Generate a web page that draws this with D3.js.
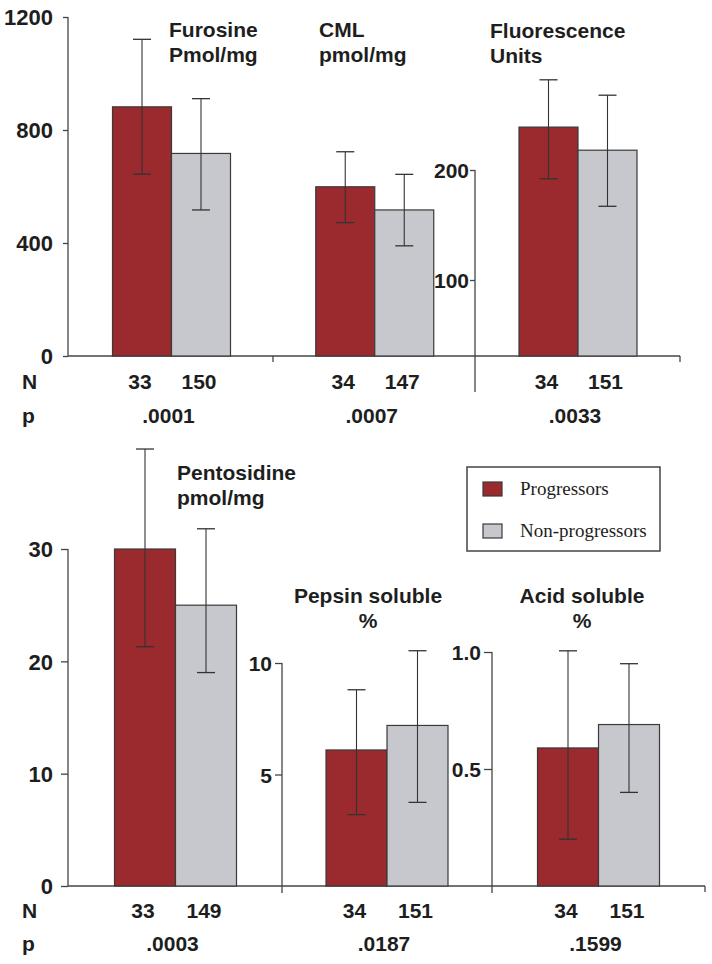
<!DOCTYPE html>
<html><head><meta charset="utf-8">
<script src="https://cdn.jsdelivr.net/npm/d3@7"></script>
<style>
body{margin:0;background:#fff}
text{font-family:"Liberation Sans",Arial,sans-serif;font-weight:bold;fill:#1e1e1e}
</style>
</head><body><svg id="c" width="712" height="964"></svg>
<script>
// ---------- DATA ----------
const series = ["Progressors", "Non-progressors"];
const topPanels = ["Furosine", "CML", "Fluorescence"];
const bottomPanels = ["Pentosidine", "Pepsin soluble", "Acid soluble"];
const titleLine1 = ["Furosine", "CML", "Fluorescence", "Pentosidine", "Pepsin soluble", "Acid soluble"];
const titleLine2 = ["Pmol/mg", "pmol/mg", "Units", "pmol/mg", "%", "%"];
const progMean = [882, 599, 239, 30, 6.1, 0.59];
const progLow  = [644, 472, 192, 21.3, 3.2, 0.20];
const progHigh = [1121, 723, 282, 38.9, 8.8, 1.005];
const nonMean  = [717, 517, 218, 25, 7.2, 0.69];
const nonLow   = [517, 390, 167, 19.0, 3.75, 0.40];
const nonHigh  = [911, 643, 268, 31.8, 10.55, 0.95];
const nProg = [33, 34, 34, 33, 34, 34];
const nNon  = [150, 147, 151, 149, 151, 151];
const pValues = [".0001", ".0007", ".0033", ".0003", ".0187", ".1599"];
const domainFurosine = [0, 1200];
const domainFluor = [0, 200];
const domainPent = [0, 30];
const domainPepsin = [0, 10];
const domainAcid = [0, 1];
const ticksFurosine = [0, 400, 800, 1200];
const ticksFluor = [100, 200];
const ticksPent = [0, 10, 20, 30];
const ticksPepsin = [5, 10];
const ticksAcid = [0.5, 1.0];

// ---------- LAYOUT ----------
const svg = d3.select("#c");
const RED = "#9b2a2e", GRAY = "#c6c8ce", STROKE = "#3a3a3a", AX = "#444";
const rows = [
  {panels: topPanels, base: 356, centers: [171.5, 578], half: 59, nY: 389, pY: 423, idx0: 0},
  {panels: bottomPanels, base: 886, centers: [175.5, 598.5], half: 61, nY: 918, pY: 951, idx0: 3}
];
const titlePos = [
  {x: 169, y: 37, anchor: "start"}, {x: 319, y: 37, anchor: "start"}, {x: 490, y: 38, anchor: "start"},
  {x: 177, y: 480, anchor: "start"}, {x: 368, y: 603, anchor: "middle"}, {x: 582, y: 603, anchor: "middle"}
];
const yFur = d3.scaleLinear().domain(domainFurosine).range([356, 17]);
const yFlu = d3.scaleLinear().domain(domainFluor).range([390, 170]);
const yPen = d3.scaleLinear().domain(domainPent).range([886, 549]);
const yPep = d3.scaleLinear().domain(domainPepsin).range([886, 663]);
const yAci = d3.scaleLinear().domain(domainAcid).range([886, 652]);
const yScales = [yFur, yFur, yFlu, yPen, yPep, yAci];

function drawAxis(x, scale, ticks, fmt, top, bottom, tickSize, pad, fs) {
  const g = svg.append("g").attr("transform", `translate(${x},0)`);
  g.call(d3.axisLeft(scale).tickValues(ticks).tickFormat(fmt).tickSize(tickSize).tickPadding(pad));
  g.select(".domain").remove();
  g.selectAll(".tick line").attr("stroke", AX).attr("stroke-width", 1.3);
  g.selectAll(".tick text").style("font-size", fs + "px").attr("fill", "#1e1e1e")
    .style("font-family", '"Liberation Sans",Arial,sans-serif').style("font-weight", "bold").attr("dy", "0.36em");
  g.append("line").attr("x1", 0).attr("x2", 0).attr("y1", top).attr("y2", bottom)
    .attr("stroke", AX).attr("stroke-width", 1.3);
}
drawAxis(68, yFur, ticksFurosine, d3.format("d"), yFur(1200), 356, 5, 10, 22);
drawAxis(475, yFlu, ticksFluor, d3.format("d"), yFlu(200), 392, 5, 1, 21);
drawAxis(68, yPen, ticksPent, d3.format("d"), yPen(30), 886, 7, 8, 22);
drawAxis(282, yPep, ticksPepsin, d3.format("d"), yPep(10), 893, 7, 3, 21);
drawAxis(492, yAci, ticksAcid, d3.format(".1f"), yAci(1), 893, 8, 3, 21);

function seg(x1, y1, x2, y2) {
  svg.append("line").attr("x1", x1).attr("x2", x2).attr("y1", y1).attr("y2", y2)
    .attr("stroke", AX).attr("stroke-width", 1.3);
}
seg(68, 356, 680, 356); seg(273, 356, 273, 362); seg(680, 356, 680, 362);
seg(68, 886, 705, 886); seg(705, 886, 705, 892);

rows.forEach(row => {
  const px = d3.scalePoint().domain(row.panels).range(row.centers);
  row.panels.forEach((name, j) => {
    const i = row.idx0 + j;
    const c = px(name);
    const xb = d3.scaleBand().domain(series).range([c - row.half, c + row.half]).paddingInner(0);
    const y = yScales[i];
    const recs = [
      {s: series[0], m: progMean[i], lo: progLow[i], hi: progHigh[i], n: nProg[i], col: RED},
      {s: series[1], m: nonMean[i], lo: nonLow[i], hi: nonHigh[i], n: nNon[i], col: GRAY}
    ];
    const g = svg.append("g");
    g.selectAll("rect").data(recs).join("rect")
      .attr("x", d => xb(d.s)).attr("width", xb.bandwidth())
      .attr("y", d => y(d.m)).attr("height", d => row.base - y(d.m))
      .attr("fill", d => d.col).attr("stroke", STROKE).attr("stroke-width", 1.2);
    const cx = d => xb(d.s) + xb.bandwidth() / 2;
    g.selectAll("line.v").data(recs).join("line").attr("class", "v")
      .attr("x1", cx).attr("x2", cx).attr("y1", d => y(d.hi)).attr("y2", d => y(d.lo))
      .attr("stroke", "#333").attr("stroke-width", 1.1);
    ["hi", "lo"].forEach(k => {
      g.selectAll("line." + k).data(recs).join("line").attr("class", k)
        .attr("x1", d => cx(d) - 9).attr("x2", d => cx(d) + 9)
        .attr("y1", d => y(d[k])).attr("y2", d => y(d[k]))
        .attr("stroke", "#333").attr("stroke-width", 1.3);
    });
    g.selectAll("text.n").data(recs).join("text").attr("class", "n")
      .attr("x", d => cx(d) - 2).attr("y", row.nY).attr("text-anchor", "middle")
      .style("font-size", "21px").text(d => d.n);
    g.append("text").attr("x", c - 3).attr("y", row.pY).attr("text-anchor", "middle")
      .style("font-size", "21px").text(pValues[i]);
    const tp = titlePos[i];
    const t = g.append("text").attr("x", tp.x).attr("y", tp.y).attr("text-anchor", tp.anchor).style("font-size", "21px");
    t.append("tspan").attr("x", tp.x).text(titleLine1[i]);
    t.append("tspan").attr("x", tp.x).attr("dy", 25).text(titleLine2[i]);
  });
  svg.append("text").attr("x", 22).attr("y", row.nY).style("font-size", "21px").text("N");
  svg.append("text").attr("x", 22).attr("y", row.pY).style("font-size", "21px").text("p");
});

const lg = svg.append("g");
lg.append("rect").attr("x", 467).attr("y", 467).attr("width", 193).attr("height", 84)
  .attr("fill", "#fff").attr("stroke", "#444").attr("stroke-width", 1.5);
series.forEach((s, k) => {
  lg.append("rect").attr("x", 483).attr("y", 482 + k * 42).attr("width", 19).attr("height", 14)
    .attr("fill", k === 0 ? RED : GRAY).attr("stroke", STROKE).attr("stroke-width", 1.2);
  lg.append("text").attr("x", 520).attr("y", 495 + k * 42)
    .style("font-family", '"Liberation Serif","Times New Roman",serif').style("font-weight", "normal")
    .style("font-size", "19px").attr("fill", "#333").text(s);
});
</script></body></html>
